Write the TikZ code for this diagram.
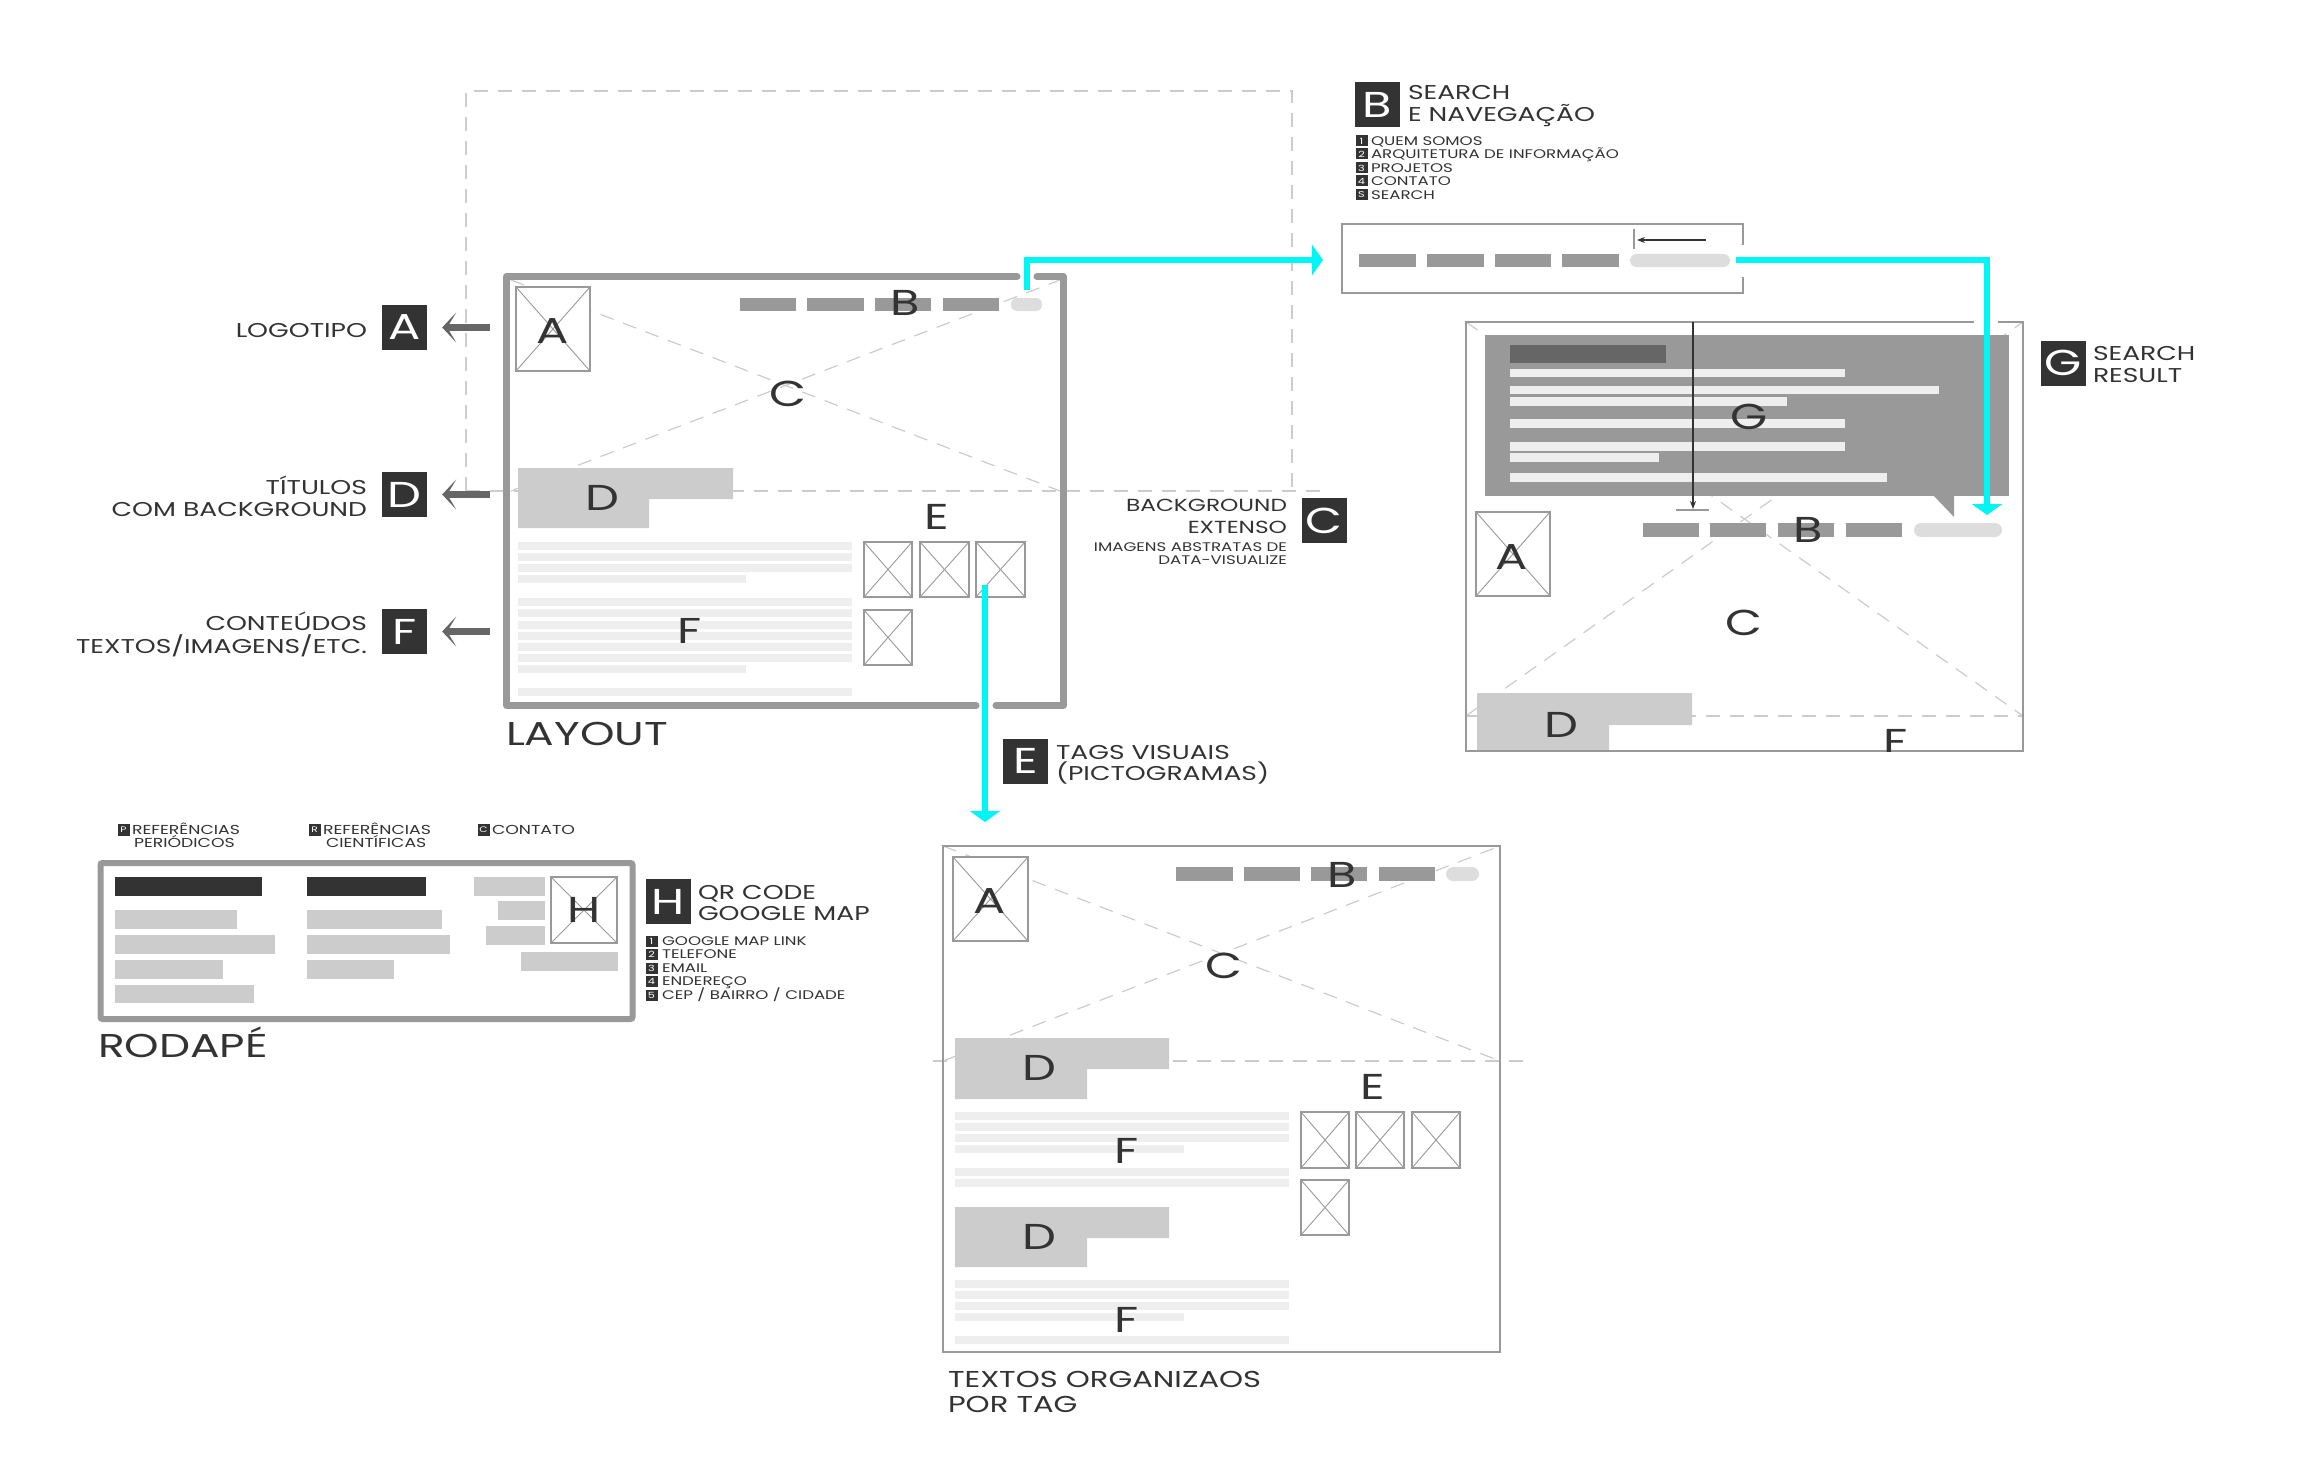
\documentclass[tikz,border=0pt]{standalone}
\usepackage{fontspec}
\setmainfont{Poppins}[FakeStretch=1.33]
\usetikzlibrary{arrows.meta}
\definecolor{txt}{HTML}{333333}
\definecolor{dbox}{HTML}{333333}
\definecolor{bord}{HTML}{999999}
\definecolor{barc}{HTML}{999999}
\definecolor{pillc}{HTML}{DDDDDD}
\definecolor{dfill}{HTML}{CCCCCC}
\definecolor{fline}{HTML}{EEEEEE}
\definecolor{dashc}{HTML}{CCCCCC}
\definecolor{cyn}{HTML}{00F5F5}
\definecolor{arrc}{HTML}{666666}
\definecolor{gbar}{HTML}{666666}
\newcommand\fBig{\fontsize{36}{36}\selectfont}
\newcommand\fLab{\fontsize{20}{22}\selectfont}
\newcommand\fTag{\fontsize{23}{24}\selectfont}
\newcommand\fMid{\fontsize{17.5}{20}\selectfont}
\newcommand\fSm{\fontsize{12.5}{13}\selectfont}
\newcommand\fFoot{\fontsize{13}{14}\selectfont}
\newcommand\fTiny{\fontsize{8.5}{9}\selectfont}
\newcommand\fHead{\fontsize{33}{34}\selectfont}
\tikzset{
  txtn/.style={inner sep=0pt, outer sep=0pt, text=txt},
  bigl/.style={txtn, font=\fBig},
  lab/.style={txtn, font=\fLab, anchor=base west},
  labr/.style={txtn, font=\fLab, anchor=base east},
  tagt/.style={txtn, font=\fTag, anchor=base west},
  midr/.style={txtn, font=\fMid, anchor=base east},
  smt/.style={txtn, font=\fSm, anchor=base west},
  smr/.style={txtn, font=\fSm, anchor=base east},
  foott/.style={txtn, font=\fFoot, anchor=base west},
  headt/.style={txtn, font=\fHead, anchor=base west},
  keybox/.style={fill=dbox, text=white, font=\fBig, minimum width=45pt, minimum height=45pt, inner sep=0pt},
  numbox/.style={fill=dbox, text=white, font=\fTiny, minimum width=12pt, minimum height=11pt, inner sep=0pt},
  tinybox/.style={fill=dbox, text=white, font=\fontsize{8}{8}\selectfont, minimum width=12pt, minimum height=12pt, inner sep=0pt},
  imgx/.style={draw=bord, line width=0.9pt},
  imgnode/.style={draw=bord, line width=1.2pt, fill=white, inner sep=0pt, outer sep=0pt,
    append after command={(\tikzlastnode.north west) edge[imgx] (\tikzlastnode.south east)
                          (\tikzlastnode.south west) edge[imgx] (\tikzlastnode.north east)}},
  dashx/.style={draw=dashc, line width=1.2pt, dash pattern=on 14pt off 10pt},
  thickb/.style={draw=bord, line width=7pt, line cap=round, line join=round},
  thinb/.style={draw=bord, line width=1.5pt},
  graya/.style={draw=arrc, line width=7pt, -{Stealth[length=14pt,width=30pt,inset=9pt]}},
  cyna/.style={draw=cyn, line width=6pt, line join=miter, -{Triangle[length=11pt,width=30pt]}},
  thina/.style={draw=txt, line width=1.2pt, -{Stealth[length=8pt,width=6pt]}},
  tickl/.style={draw=bord, line width=1.2pt},
}
\newcommand\imgn[5]{\node[imgnode, minimum width={(#4)-(#2)}, minimum height={(#5)-(#3)}] (#1) at ({((#2)+(#4))/2},{((#3)+(#5))/2}) {};}
\newcommand\litem[6]{\node[numbox] (#1n) at (#3,#5) {#2}; \node[smt] (#1t) at (#4,{(#5)+4.5}) {#6};}
\begin{document}
\begin{tikzpicture}[x=1pt,y=-1pt]
\useasboundingbox (0,0) rectangle (2300,1466);
\fill[white] (0,0) rectangle (2300,1466);

% ---------------- big dashed frame ----------------
\draw[dashx] (466,491) -- (466,91) -- (1292,91) -- (1292,491);
\draw[dashx] (466,491) -- (1325,491);

% ---------------- LAYOUT ----------------
\draw[dashx] (511,280) -- (1060,491);
\draw[dashx] (511,491) -- (1060,280);
\imgn{LimgA}{516}{287}{590}{371}
\fill[barc] (740,298) rectangle (796,311);
\fill[barc] (807,298) rectangle (864,311);
\fill[barc] (875,298) rectangle (931,311);
\fill[barc] (943,298) rectangle (999,311);
\fill[pillc, rounded corners=6pt] (1011,298) rectangle (1042,311);
\fill[dfill] (518,468) -- (733,468) -- (733,499) -- (649,499) -- (649,528) -- (518,528) -- cycle;
\imgn{LimgE1}{864}{542}{912}{597}
\imgn{LimgE2}{920}{542}{969}{597}
\imgn{LimgE3}{976}{542}{1025}{597}
\imgn{LimgE4}{864}{610}{912}{665}
\foreach \yy/\xe in {542/852,553/852,564/852,575/746,598/852,609/852,621/852,632/852,643/852,654/852,665/746,688/852}
  {\fill[fline] (518,\yy) rectangle (\xe,\yy+8);}
\draw[thickb] (1037,276.5) -- (1063,276.5) -- (1063,705.5) -- (996,705.5);
\draw[thickb] (976,705.5) -- (506.5,705.5) -- (506.5,276.5) -- (1017,276.5);
\node[bigl] (LA) at (553,331) {A};
\node[bigl] (LB) at (905,303) {B};
\node[bigl] (LC) at (788,394) {C};
\node[bigl] (LD) at (602,498) {D};
\node[bigl] (LE) at (937,517) {E};
\node[bigl] (LF) at (690,631) {F};
\node[headt] (tLayout) at (506,745) {LAYOUT};

% ---------------- left legend ----------------
\node[labr] (tLogo) at (367,337) {LOGOTIPO};
\node[labr] (tTit1) at (367,494) {TÍTULOS};
\node[labr] (tTit2) at (367,516) {COM BACKGROUND};
\node[labr] (tCon1) at (367,630) {CONTEÚDOS};
\node[labr] (tCon2) at (367,653) {TEXTOS/IMAGENS/ETC.};
\node[keybox] (kA) at (404.5,327.5) {A};
\node[keybox] (kD) at (404.5,494.5) {D};
\node[keybox] (kF) at (404.5,631.5) {F};
\coordinate (aA) at (490,327.5);
\coordinate (aD) at (490,494.5);
\coordinate (aF) at (490,631.5);
\draw[graya, shorten >=15pt] (aA) -- (kA.east);
\draw[graya, shorten >=15pt] (aD) -- (kD.east);
\draw[graya, shorten >=15pt] (aF) -- (kF.east);

% ---------------- C legend ----------------
\node[keybox] (kC) at (1324,520.5) {C};
\node[midr] (tC1) at (1287,511) {BACKGROUND};
\node[midr] (tC2) at (1287,533) {EXTENSO};
\node[smr] (tC3) at (1287,551) {IMAGENS ABSTRATAS DE};
\node[smr] (tC4) at (1287,564) {DATA-VISUALIZE};

% ---------------- B legend + search box ----------------
\node[keybox] (kB) at (1377.5,104.5) {B};
\node[lab] (tB1) at (1408,100) {SEARCH};
\node[lab] (tB2) at (1408,122) {E NAVEGAÇÃO};
\litem{bl1}{1}{1361.5}{1371}{141}{QUEM SOMOS}
\litem{bl2}{2}{1361.5}{1371}{154}{ARQUITETURA DE INFORMAÇÃO}
\litem{bl3}{3}{1361.5}{1371}{168}{PROJETOS}
\litem{bl4}{4}{1361.5}{1371}{181}{CONTATO}
\litem{bl5}{S}{1361.5}{1371}{195}{SEARCH}
\draw[thinb] (1743,245) -- (1743,224) -- (1342,224) -- (1342,293) -- (1743,293) -- (1743,277);
\fill[barc] (1359,254) rectangle (1416,267);
\fill[barc] (1427,254) rectangle (1484,267);
\fill[barc] (1495,254) rectangle (1551,267);
\fill[barc] (1562,254) rectangle (1619,267);
\fill[pillc, rounded corners=6.5pt] (1630,254) rectangle (1730,267);
\coordinate (sa1) at (1706,240);
\coordinate (sa2) at (1637,240);
\draw[thina] (sa1) -- (sa2);
\draw[tickl] (1634,229) -- (1634,249);

% ---------------- SEARCH RESULT ----------------
\draw[dashx] (1466,322) -- (2023,716);
\draw[dashx] (1466,716) -- (2023,322);
\draw[dashx] (1466,716) -- (2023,716);
\fill[barc] (1485,335) rectangle (2009,496);
\fill[barc] (1933,495) -- (1954,495) -- (1954,517) -- cycle;
\fill[gbar] (1510,345) rectangle (1666,363);
\fill[fline] (1510,369) rectangle (1845,377);
\fill[fline] (1510,386) rectangle (1939,394);
\fill[fline] (1510,397) rectangle (1787,406);
\fill[fline] (1510,419) rectangle (1845,428);
\fill[fline] (1510,442) rectangle (1845,451);
\fill[fline] (1510,453) rectangle (1659,462);
\fill[fline] (1510,473) rectangle (1887,482);
\imgn{RimgA}{1476}{512}{1550}{596}
\fill[barc] (1643,523) rectangle (1699,537);
\fill[barc] (1710,523) rectangle (1766,537);
\fill[barc] (1778,523) rectangle (1834,537);
\fill[barc] (1846,523) rectangle (1902,537);
\fill[pillc, rounded corners=7pt] (1914,523) rectangle (2002,537);
\fill[dfill] (1477,693) -- (1692,693) -- (1692,725) -- (1609,725) -- (1609,751) -- (1477,751) -- cycle;
\draw[thinb] (1974,322) -- (1466,322) -- (1466,751) -- (2023,751) -- (2023,322) -- (1998,322);
\draw[tickl] (1676,510) -- (1709,510);
\coordinate (ga1) at (1693,322);
\coordinate (ga2) at (1693,509);
\draw[thina] (ga1) -- (ga2);
\node[bigl] (RG) at (1749,417) {G};
\node[bigl] (RA) at (1512,557) {A};
\node[bigl] (RB) at (1808,530) {B};
\node[bigl] (RC) at (1744,623) {C};
\node[bigl] (RD) at (1561,725) {D};
\begin{scope}
  \clip (1466,322) rectangle (2023,751);
  \node[bigl] (RF) at (1896,742) {F};
\end{scope}
\node[keybox] (kG) at (2063,363) {G};
\node[lab] (tG1) at (2093,360) {SEARCH};
\node[lab] (tG2) at (2093,382) {RESULT};

% ---------------- E legend ----------------
\node[keybox] (kE) at (1025.5,761) {E};
\node[lab] (tE1) at (1056,759) {TAGS VISUAIS};
\node[lab] (tE2) at (1056,780) {(PICTOGRAMAS)};

% ---------------- RODAPE ----------------
\node[tinybox] (fP) at (123.5,829.5) {P};
\node[foott] (tP1) at (132,834) {REFERÊNCIAS};
\node[foott] (tP2) at (134,847) {PERIÓDICOS};
\node[tinybox] (fR) at (314.5,829.5) {R};
\node[foott] (tR1) at (323,834) {REFERÊNCIAS};
\node[foott] (tR2) at (326,847) {CIENTÍFICAS};
\node[tinybox] (fC) at (483.5,829.5) {C};
\node[foott] (tFC) at (492,834) {CONTATO};
\fill[dbox] (115,877) rectangle (262,896);
\fill[dbox] (307,877) rectangle (426,896);
\fill[dfill] (115,910) rectangle (237,929);
\fill[dfill] (115,935) rectangle (275,954);
\fill[dfill] (115,960) rectangle (223,979);
\fill[dfill] (115,985) rectangle (254,1003);
\fill[dfill] (307,910) rectangle (442,929);
\fill[dfill] (307,935) rectangle (450,954);
\fill[dfill] (307,960) rectangle (394,979);
\fill[dfill] (474,877) rectangle (545,896);
\fill[dfill] (498,901) rectangle (545,920);
\fill[dfill] (486,926) rectangle (545,945);
\fill[dfill] (521,952) rectangle (618,971);
\imgn{FimgH}{551}{877}{617}{943}
\node[bigl] (FH) at (584,910) {H};
\draw[draw=bord, line width=6pt, rounded corners=2pt] (100.5,863) rectangle (632.5,1019);
\node[headt] (tRod) at (98,1057) {RODAPÉ};

% ---------------- H legend ----------------
\node[keybox] (kH) at (668,901.5) {H};
\node[lab] (tH1) at (698,899) {QR CODE};
\node[lab] (tH2) at (698,920) {GOOGLE MAP};
\litem{hl1}{1}{651.5}{662}{941}{GOOGLE MAP LINK}
\litem{hl2}{2}{651.5}{662}{954}{TELEFONE}
\litem{hl3}{3}{651.5}{662}{968}{EMAIL}
\litem{hl4}{4}{651.5}{662}{981}{ENDEREÇO}
\litem{hl5}{5}{651.5}{662}{995}{CEP / BAIRRO / CIDADE}

% ---------------- TEXTOS POR TAG ----------------
\draw[dashx] (943,846) -- (1500,1061);
\draw[dashx] (943,1061) -- (1500,846);
\draw[dashx] (933,1061) -- (1525,1061);
\imgn{TimgA}{953}{857}{1028}{941}
\fill[barc] (1176,867) rectangle (1233,881);
\fill[barc] (1244,867) rectangle (1300,881);
\fill[barc] (1311,867) rectangle (1367,881);
\fill[barc] (1379,867) rectangle (1435,881);
\fill[pillc, rounded corners=7pt] (1446,867) rectangle (1479,881);
\fill[dfill] (955,1038) -- (1169,1038) -- (1169,1069) -- (1087,1069) -- (1087,1099) -- (955,1099) -- cycle;
\fill[dfill] (955,1207) -- (1169,1207) -- (1169,1238) -- (1087,1238) -- (1087,1267) -- (955,1267) -- cycle;
\imgn{TimgE1}{1301}{1112}{1349}{1168}
\imgn{TimgE2}{1356}{1112}{1404}{1168}
\imgn{TimgE3}{1412}{1112}{1460}{1168}
\imgn{TimgE4}{1301}{1180}{1349}{1235}
\foreach \yy/\xe in {1112/1289,1123/1289,1134/1289,1145/1184,1168/1289,1179/1289,1280/1289,1291/1289,1302/1289,1313/1184,1336/1289}
  {\fill[fline] (955,\yy) rectangle (\xe,\yy+8);}
\draw[thinb] (943,846) rectangle (1500,1352);
\node[bigl] (TA) at (990,901) {A};
\node[bigl] (TB) at (1342,875) {B};
\node[bigl] (TC) at (1224,966) {C};
\node[bigl] (TD1) at (1039,1068) {D};
\node[bigl] (TE) at (1373,1087) {E};
\node[bigl] (TF1) at (1127,1151) {F};
\node[bigl] (TD2) at (1039,1237) {D};
\node[bigl] (TF2) at (1127,1320) {F};
\node[tagt] (tT1) at (948,1387) {TEXTOS ORGANIZAOS};
\node[tagt] (tT2) at (948,1412) {POR TAG};

% ---------------- cyan connectors ----------------
\coordinate (c1a) at (1027,290);
\coordinate (c1b) at (1323,260);
\draw[cyna] (c1a) |- (c1b);
\coordinate (c2a) at (1736,260);
\coordinate (c2b) at (1987,515);
\draw[cyna] (c2a) -| (c2b);
\coordinate (c3a) at (985,585);
\coordinate (c3b) at (985,822);
\draw[cyna] (c3a) -- (c3b);
\end{tikzpicture}
\end{document}
